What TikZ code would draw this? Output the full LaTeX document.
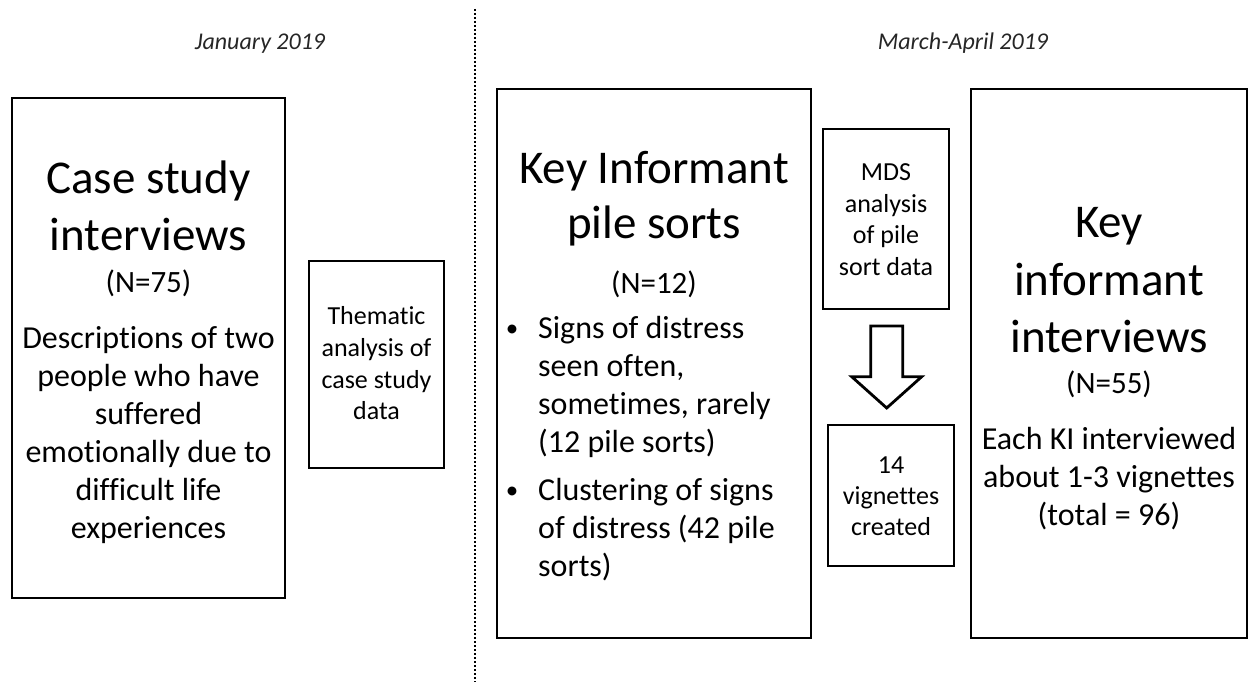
\documentclass[tikz,border=0pt]{standalone}
\usepackage{fontspec}
\setmainfont{Carlito}[Ligatures={NoCommon}]
\begin{document}
\begin{tikzpicture}[x=1pt,y=-1pt,
  boxst/.style={draw=black,line width=2.8pt,fill=white},
  bigt/.style={anchor=base,inner sep=0pt,font=\fontsize{47}{57}\selectfont},
  nt/.style={anchor=base,inner sep=0pt,font=\fontsize{31}{38}\selectfont},
  mt/.style={anchor=base,inner sep=0pt,font=\fontsize{32}{38}\selectfont},
  lt/.style={anchor=base west,inner sep=0pt,font=\fontsize{32}{38}\selectfont},
  bt/.style={anchor=base,inner sep=0pt,font=\fontsize{25}{30}\selectfont},
  st/.style={anchor=base,inner sep=0pt,font=\fontsize{26}{32}\selectfont},
  ht/.style={anchor=base,inner sep=0pt,text=black!85,font=\fontsize{24}{29}\selectfont\itshape},
  arrowst/.style={draw=black,line width=2.8pt,fill=white,line join=miter}]
\useasboundingbox (0,0) rectangle (1250,682);
% dotted separator
\coordinate (dtop) at (475,9);
\coordinate (dbot) at (475,682);
\draw[line width=2.4pt,dash pattern=on 2pt off 2pt] (dtop) -- (dbot);
% headings
\node[ht] (h1) at (260,50) {January 2019};
\node[ht] (h2) at (963,50) {March-April 2019};
% boxes
\draw[boxst] (12,98) rectangle (285,598);
\node[inner sep=0pt,minimum width=273pt,minimum height=500pt] (b1) at (148.5,348) {};
\draw[boxst] (309,261) rectangle (444,468);
\node[inner sep=0pt,minimum width=135pt,minimum height=207pt] (b2) at (376.5,364.5) {};
\draw[boxst] (497,89) rectangle (811,638);
\node[inner sep=0pt,minimum width=314pt,minimum height=549pt] (b3) at (654,363.5) {};
\draw[boxst] (823,129) rectangle (949,309);
\node[inner sep=0pt,minimum width=126pt,minimum height=180pt] (b4) at (886,219) {};
\draw[boxst] (828,425) rectangle (954,566);
\node[inner sep=0pt,minimum width=126pt,minimum height=141pt] (b5) at (891,495.5) {};
\draw[boxst] (971,89) rectangle (1247,638);
\node[inner sep=0pt,minimum width=276pt,minimum height=549pt] (b6) at (1109,363.5) {};
% block arrow
\draw[arrowst] (870.7,326) -- (902.7,326) -- (902.7,376.7) -- (921.7,376.7) -- (886.7,408) -- (851.7,376.7) -- (870.7,376.7) -- cycle;
% box 1 text
\node[bigt] (t11) at (148.5,193) {Case study};
\node[bigt] (t12) at (148.5,250) {interviews};
\node[nt] (t13) at (148.5,292) {(N=75)};
\node[mt] (t14) at (148.5,348) {Descriptions of two};
\node[mt] (t15) at (148.5,386) {people who have};
\node[mt] (t16) at (148.5,424) {suffered};
\node[mt] (t17) at (148.5,462) {emotionally due to};
\node[mt] (t18) at (148.5,500) {difficult life};
\node[mt] (t19) at (148.5,538) {experiences};
% thematic
\node[st] (t21) at (376.5,324) {Thematic};
\node[st] (t22) at (376.5,356) {analysis of};
\node[st] (t23) at (376.5,388) {case study};
\node[st] (t24) at (376.5,419) {data};
% box 3
\node[bigt] (t31) at (654,183) {Key Informant};
\node[bigt] (t32) at (654,238) {pile sorts};
\node[nt] (t33) at (654,293) {(N=12)};
\node[bt] (bu1) at (512,336) {•};
\node[lt] (t34) at (538,338) {Signs of distress};
\node[lt] (t35) at (538,376) {seen often,};
\node[lt] (t36) at (538,414) {sometimes, rarely};
\node[lt] (t37) at (538,452) {(12 pile sorts)};
\node[bt] (bu2) at (512,498) {•};
\node[lt] (t38) at (538,500) {Clustering of signs};
\node[lt] (t39) at (538,538) {of distress (42 pile};
\node[lt] (t3a) at (538,576) {sorts)};
% MDS
\node[st] (t41) at (886,180) {MDS};
\node[st] (t42) at (886,212) {analysis};
\node[st] (t43) at (886,243) {of pile};
\node[st] (t44) at (886,275) {sort data};
% vignettes
\node[st] (t51) at (891,473) {14};
\node[st] (t52) at (891,504) {vignettes};
\node[st] (t53) at (891,535) {created};
% right box
\node[bigt] (t61) at (1109,237) {Key};
\node[bigt] (t62) at (1109,295) {informant};
\node[bigt] (t63) at (1109,352) {interviews};
\node[nt] (t64) at (1109,393) {(N=55)};
\node[mt] (t65) at (1109,449) {Each KI interviewed};
\node[mt] (t66) at (1109,487) {about 1-3 vignettes};
\node[mt] (t67) at (1109,525) {(total = 96)};
\end{tikzpicture}
\end{document}
